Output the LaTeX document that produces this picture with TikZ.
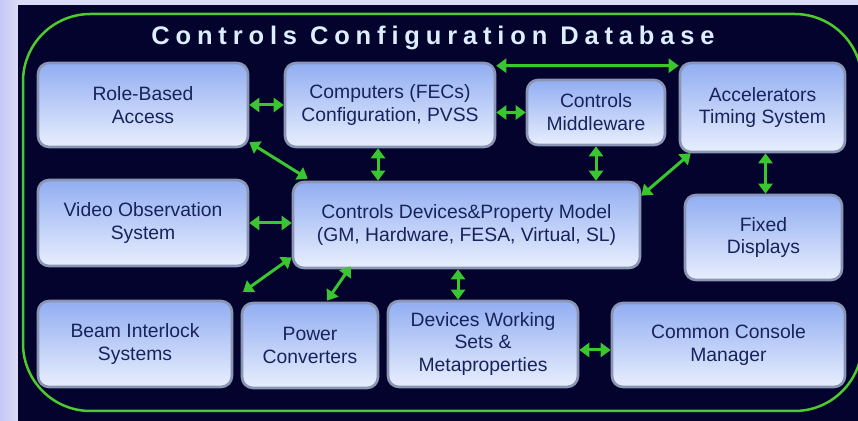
\documentclass[tikz,border=0pt]{standalone}
\usepackage{fontspec}
\setsansfont{Liberation Sans}
\newfontfamily\titlefont[LetterSpace=23]{Liberation Sans}
\usetikzlibrary{arrows.meta, calc}

\definecolor{navy}{HTML}{03032E}
\definecolor{lavender}{HTML}{DCDCF6}
\definecolor{framegreen}{HTML}{4CCB2A}
\definecolor{linkgreen}{HTML}{3AC62E}
\definecolor{boxtop}{HTML}{92AEF2}
\definecolor{boxbot}{HTML}{E8EEFD}
\definecolor{boxrim}{HTML}{8A96B4}
\definecolor{boxtext}{HTML}{17235A}
\definecolor{titletext}{HTML}{DCEEFF}

\begin{document}
\begin{tikzpicture}[
  x=0.02cm, y=-0.02cm,
  box/.style={rectangle, rounded corners=0.22cm, draw=boxrim, line width=1.5pt,
    top color=boxtop, bottom color=boxbot, align=center, text=boxtext,
    inner sep=0pt, font=\sffamily\fontsize{11}{13}\selectfont},
  link/.style={draw=linkgreen, line width=0.06cm,
    {Triangle[length=0.2cm, width=0.28cm]}-{Triangle[length=0.2cm, width=0.28cm]}}
  ]

  % background and frame
  \clip (0,0) rectangle (858,421);
  \shade[left color=lavender!90!blue, right color=lavender] (0,0) rectangle (18,421);
  \fill[lavender] (18,0) rectangle (858,5);
  \fill[navy] (18,5) rectangle (858,421);
  \draw[framegreen, line width=0.05cm, rounded corners=1.35cm] (23,14) rectangle (862,411);

  \node[text=titletext, font=\titlefont\bfseries\fontsize{14.5}{16}\selectfont] (title) at (433,38) {Controls Configuration Database};

  % top row
  \node[box, minimum width=4.2cm, minimum height=1.68cm] (role) at (143,105) {Role-Based\\Access};
  \node[box, minimum width=4.2cm, minimum height=1.68cm] (comp) at (390,105) {Computers (FECs)\\Configuration, PVSS};
  \node[box, minimum width=2.76cm, minimum height=1.3cm] (mw) at (596,112.5) {Controls\\Middleware};
  \node[box, minimum width=3.3cm, minimum height=1.78cm] (timing) at (762.5,107.5) {Accelerators\\Timing System};

  % middle row
  \node[box, minimum width=4.2cm, minimum height=1.72cm] (video) at (143,223) {Video Observation\\System};
  \node[box, minimum width=6.94cm, minimum height=1.72cm] (model) at (466.5,225) {Controls Devices\&Property Model\\(GM, Hardware, FESA, Virtual, SL)};
  \node[box, minimum width=3.14cm, minimum height=1.7cm] (fixed) at (763.5,237.5) {Fixed\\Displays};

  % bottom row
  \node[box, minimum width=3.88cm, minimum height=1.72cm] (beam) at (135,344) {Beam Interlock\\Systems};
  \node[box, minimum width=2.72cm, minimum height=1.7cm] (power) at (310,345.5) {Power\\Converters};
  \node[box, minimum width=3.8cm, minimum height=1.72cm] (sets) at (483,344) {Devices Working\\Sets \&\\Metaproperties};
  \node[box, minimum width=4.66cm, minimum height=1.68cm] (console) at (728.5,345) {Common Console\\Manager};

  \coordinate (gap) at (243,292);

  % connections
  \draw[link] (role) -- (comp);
  \draw[link] ($(comp.north east)+(0,4)$) -- ($(timing.north west)+(0,4)$);
  \draw[link] (comp.east |- mw) -- (mw.west);
  \draw[link] ($(role.south east)+(0,-6)$) -- ($(model.north west)+(16,-2)$);
  \draw[link] ([xshift=-0.24cm]comp.south) -- ([xshift=-0.24cm]comp.south |- model.north);
  \draw[link] (mw.south) -- (mw.south |- model.north);
  \draw[link] ($(timing.south west)+(12,0)$) -- ($(model.north east)+(0,15)$);
  \draw[link] ([xshift=0.06cm]timing.south) -- ([xshift=0.06cm]timing.south |- fixed.north);
  \draw[link] (video.east) -- (video.east -| model.west);
  \draw[link] ($(model.south west)+(0,-12)$) -- (gap);
  \draw[link] ($(model.south west)+(59,-3)$) -- ($(power.north)+(17,-1)$);
  \draw[link] ([xshift=-0.5cm]sets.north |- model.south) -- ([xshift=-0.5cm]sets.north);
  \draw[link] ([yshift=-0.12cm]sets.east) -- ([yshift=-0.12cm]sets.east -| console.west);

\end{tikzpicture}
\end{document}
